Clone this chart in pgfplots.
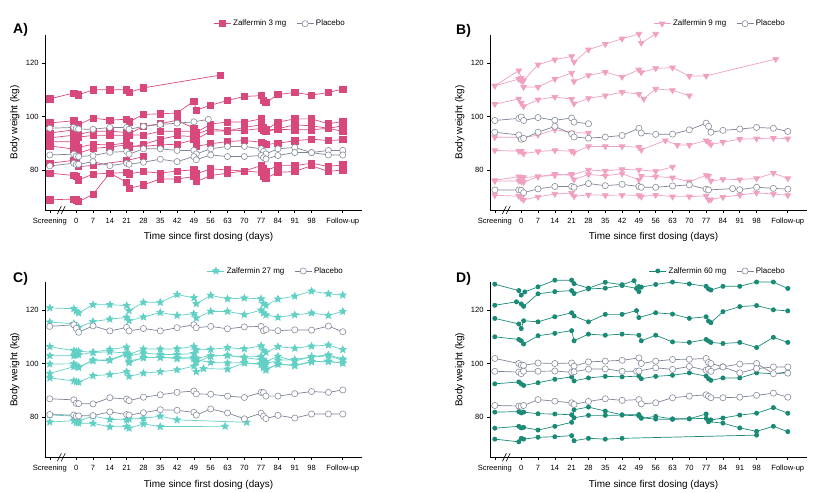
\documentclass[border=0pt]{standalone}
\usepackage{fontspec}
\setmainfont{Liberation Sans}
\usepackage{pgfplots}
\pgfplotsset{compat=1.18}

\definecolor{colA}{RGB}{217,72,125}
\definecolor{colB}{RGB}{240,160,192}
\definecolor{colC}{RGB}{98,208,196}
\definecolor{colD}{RGB}{26,138,118}
\definecolor{plac}{RGB}{125,132,152}
\definecolor{placmark}{RGB}{135,140,158}

% filled five-pointed star
\pgfdeclareplotmark{fstar}{%
  \pgfpathmoveto{\pgfpointpolar{90}{\pgfplotmarksize}}%
  \pgfpathlineto{\pgfpointpolar{126}{0.45\pgfplotmarksize}}%
  \pgfpathlineto{\pgfpointpolar{162}{\pgfplotmarksize}}%
  \pgfpathlineto{\pgfpointpolar{198}{0.45\pgfplotmarksize}}%
  \pgfpathlineto{\pgfpointpolar{234}{\pgfplotmarksize}}%
  \pgfpathlineto{\pgfpointpolar{270}{0.45\pgfplotmarksize}}%
  \pgfpathlineto{\pgfpointpolar{306}{\pgfplotmarksize}}%
  \pgfpathlineto{\pgfpointpolar{342}{0.45\pgfplotmarksize}}%
  \pgfpathlineto{\pgfpointpolar{18}{\pgfplotmarksize}}%
  \pgfpathlineto{\pgfpointpolar{54}{0.45\pgfplotmarksize}}%
  \pgfpathclose
  \pgfusepathqfillstroke}

\tikzset{brk/.style={line width=0.6bp, black}}

\pgfplotsset{
  panel/.style={
    scale only axis, width=317bp, height=175bp,
    xmin=-13, xmax=119, ymin=65, ymax=130.5,
    axis lines=left,
    axis line style={-, line width=0.8bp},
    every outer x axis line/.append style={-},
    every outer y axis line/.append style={-},
    clip=false,
    xtick={-11,0,7,14,21,28,35,42,49,56,63,70,77,84,91,98,111},
    xticklabels={Screening,0,7,14,21,28,35,42,49,56,63,70,77,84,91,98,Follow-up},
    ytick={80,100,120},
    tick align=outside, major tick length=3bp,
    tick style={black, line width=0.6bp},
    tick label style={font=\fontsize{7.6}{9}\selectfont},
    xticklabel style={yshift=-1.5bp},
    /pgf/number format/assume math mode=true,
    xlabel={Time since first dosing (days)},
    ylabel={Body weight (kg)},
    label style={font=\fontsize{10}{12}\selectfont},
    xlabel style={at={(axis description cs:0.516,-0.155)}, anchor=center},
    ylabel style={at={(axis description cs:-0.095,0.5)}, anchor=center},
    legend columns=2,
    legend style={draw=none, fill=none, anchor=south east,
      font=\fontsize{8}{9}\selectfont,
      /tikz/every even column/.append style={column sep=8bp}},
  },
  zA/.style={color=colA, line width=0.7bp, mark=square*, mark size=3.1bp},
  zB/.style={color=colB, line width=0.7bp, mark=triangle*, mark size=3.3bp, mark options={rotate=180}},
  zC/.style={color=colC, line width=0.7bp, mark=fstar, mark size=3.6bp},
  zD/.style={color=colD, line width=0.7bp, mark=*, mark size=2.1bp},
  pl/.style={color=plac, line width=0.7bp, mark=*, mark size=3.1bp,
    mark options={fill=white, draw=placmark, line width=0.6bp}},
}

\newcommand{\breakmark}{%
  \draw[brk] ([xshift=-2.5bp,yshift=-4bp]axis cs:-6.8,65) -- ([xshift=1.5bp,yshift=4bp]axis cs:-6.8,65);
  \draw[brk] ([xshift=-2.5bp,yshift=-4bp]axis cs:-5.2,65) -- ([xshift=1.5bp,yshift=4bp]axis cs:-5.2,65);}

\begin{document}
\begin{tikzpicture}
\path[use as bounding box] (0,0) rectangle (815bp,493bp);

% ---------------- A) 3 mg
\begin{axis}[panel, at={(45bp,283bp)}, anchor=south west,
  legend style={at={(0.962,1.02)}}]
\addplot[zA] coordinates {(-11,106.6) (-1,108.8) (1,108.1) (7,110) (14,110) (21,110) (22,109) (28,110.7) (60,115.5)};
\addlegendentry{Zalfermin 3 mg}
\addplot[zA,forget plot] coordinates {(-11,97.6) (-1,98.4) (1,97) (7,99.4) (14,98.6) (21,99) (22,98) (28,100.8) (35,101) (42,101.3) (49,105.8) (50,102.4) (56,104.2) (63,106) (70,107.5) (77,107.8) (78,106) (79,105.2) (84,108.2) (91,109) (98,108) (105,109) (111,110.3)};
\addplot[zA,forget plot] coordinates {(-11,93.8) (-1,95) (0,94.2) (1,93.3) (7,94.5) (14,94.5) (21,94) (22,93.5) (28,96.3) (35,97.3) (42,98.6) (49,95.6) (50,94) (56,97.2) (63,97.9) (70,97.9) (77,99.1) (78,96) (79,95) (84,97.9) (91,99.1) (98,99.1) (105,97.3) (111,98.1)};
\addplot[zA,forget plot] coordinates {(-11,92) (-1,93) (0,92.6) (1,92.3) (7,92.9) (14,93) (21,92.9) (22,93.1) (28,93) (35,94.5) (42,94.5) (49,94.4) (50,93.3) (56,95.4) (63,94.6) (70,95.9) (77,96.9) (78,95.5) (79,94.8) (84,95.4) (91,96.9) (98,96.5) (105,95.6) (111,96.5)};
\addplot[zA,forget plot] coordinates {(-11,90.6) (-1,90.5) (0,89.5) (1,88.5) (7,89.6) (14,89.3) (21,90.1) (22,89) (28,88.8) (35,89.4) (42,89.6) (49,91.3) (50,88.8) (56,89.8) (63,90.6) (70,91) (77,90.4) (78,89.8) (79,89.5) (84,90) (91,90.9) (98,91.5) (105,91) (111,91.3)};
\addplot[zA,forget plot] coordinates {(-11,89) (-1,87.8) (0,87) (1,86.3) (7,88) (14,88.6) (21,89.3) (22,88.4) (28,89.5) (35,91.5) (42,92.8) (49,92.5) (50,91.5) (56,94.5) (63,94.6) (70,94.8) (77,95.5) (78,94.8) (79,94.5) (84,95.2) (91,95) (98,95) (105,95.6) (111,94.4)};
\addplot[zA,forget plot] coordinates {(-11,82.5) (-1,83.6) (0,83) (1,81.2) (7,81.7) (21,83.5) (28,85)};
\addplot[zA,forget plot] coordinates {(-11,78.8) (-1,77.9) (0,77.5) (1,76.3) (7,78.4) (14,78.8) (21,79) (22,78.5) (28,79.4) (35,78.8) (42,79.6) (49,80) (50,78.5) (56,80.4) (63,80) (70,79.6) (77,81.6) (78,80.6) (79,79.6) (84,81.6) (91,81.6) (98,82.5) (105,81.3) (111,81.9)};
\addplot[zA,forget plot] coordinates {(-11,68.8) (-1,69.1) (0,68.8) (1,68.1) (7,70.9) (14,78.8) (21,75.4) (22,73.1) (28,74.4) (35,76.6) (42,76.6) (49,77.5) (50,75.6) (56,77.9) (63,78.8) (70,79.6) (77,79.1) (78,77.8) (79,76.9) (84,79.1) (91,79.4) (98,81.6) (105,79.4) (111,80)};
\addplot[pl] coordinates {(-11,95.6) (-1,95.9) (0,95.5) (1,95.3) (7,95.2) (14,95.9) (21,95.9) (22,95.2) (28,96.3) (35,97) (42,97.5) (49,98) (55,98.9)};
\addlegendentry{Placebo}
\addplot[pl,forget plot] coordinates {(-11,85.6) (-1,85.9) (0,85.2) (1,85) (7,85.4) (14,86.6) (21,86.9) (22,85.9) (28,87.9) (35,87.9) (42,87.3) (49,87.3) (50,86) (56,87.9) (63,88.8) (70,88.8) (77,87.9) (78,86.9) (79,86) (84,87.9) (91,88.4) (98,86.5) (105,87.3) (111,87.3)};
\addplot[pl,forget plot] coordinates {(-11,81.5) (-1,82.5) (0,82) (1,82.1) (7,83.1) (14,81.6) (21,82.5) (22,82.1) (28,82.9) (35,84) (42,83.1) (49,85) (50,83.8) (56,85.6) (63,85) (70,85) (77,85.4) (78,84.6) (79,84.1) (84,85.4) (91,86.5) (98,86.5) (105,85.6) (111,85.6)};
\breakmark
\end{axis}

% ---------------- B) 9 mg
\begin{axis}[panel, at={(490bp,283bp)}, anchor=south west,
  legend style={at={(0.946,1.02)}}]
\addplot[zB] coordinates {(-11,111.5) (-1,117.2) (0,114.4) (1,113.5) (7,119.4) (14,121.3) (21,122.5) (22,120.4) (28,125) (35,127.1) (42,129.1) (49,130.9) (50,127.5) (56,130.9)};
\addlegendentry{Zalfermin 9 mg}
\addplot[zB,forget plot] coordinates {(-11,111.5) (-1,114) (0,113.5) (1,111) (7,111) (14,114) (21,116.3) (22,113.1) (28,115.4) (35,116.6) (42,114.8) (49,117.5) (50,116.5) (56,118) (63,118.3) (70,115.1) (77,115.2) (106,121.5)};
\addplot[zB,forget plot] coordinates {(-11,104.6) (-1,106.6) (0,105) (1,103.8) (7,106.3) (14,107.3) (21,106.5) (22,104.8) (28,106.8) (35,107.8) (42,109.1) (49,108.4) (51,106.6) (56,110.3) (63,109.8) (70,107.8)};
\addplot[zB,forget plot] coordinates {(-11,92.2) (-1,92.2) (1,92) (7,93.1) (14,95.1) (21,94) (28,93.8)};
\addplot[zB,forget plot] coordinates {(-11,87.3) (-1,87) (0,87) (1,86.1) (7,86.9) (14,87.3) (21,87) (22,86.5) (28,88.8) (35,88.8) (42,88.8) (49,88.5) (50,87.5) (60,91) (65,89.3) (70,89.3) (77,91) (78,90.4) (79,89.5) (84,90.4) (91,91.5) (98,91.7) (105,91.9) (111,91.7)};
\addplot[zB,forget plot] coordinates {(-11,76.1) (-1,77.5) (0,77.3) (1,77.2) (7,77.5) (14,78.4) (21,78) (28,80) (35,79.6) (42,80.2) (49,80) (56,79.5) (63,81.1)};
\addplot[zB,forget plot] coordinates {(-11,75.8) (-1,75.9) (0,75.7) (1,75.4) (7,77.5) (14,78) (21,78.4) (22,76.4) (28,78.3) (35,77.8) (42,78.6) (49,76.3) (50,77.7) (56,77.5) (63,77.1) (70,75.6) (77,78) (78,77.7) (79,75.9) (84,76.5) (91,76.4) (98,76.8) (105,78.8) (111,76.8)};
\addplot[zB,forget plot] coordinates {(-11,70.5) (-1,70.2) (0,69.5) (1,68.8) (7,69.9) (14,71) (21,71.3) (22,70.1) (28,70.7) (35,70.5) (42,70.6) (49,70.5) (50,70) (56,70.6) (63,70) (70,70) (77,70.3) (78,68.8) (79,68.9) (84,69.8) (91,70.6) (98,71.4) (105,71) (111,70.5)};
\addplot[pl] coordinates {(-11,98.5) (-1,99.3) (0,99.8) (1,98.5) (7,99.6) (14,98.6) (21,99.4) (22,97.9) (28,97.3)};
\addlegendentry{Placebo}
\addplot[pl,forget plot] coordinates {(-11,94.1) (-1,93.1) (0,91.5) (1,91.8) (7,94.1) (14,96.3) (21,93.5) (22,92.3) (28,91.9) (35,92.3) (42,92.9) (49,95.6) (50,93.8) (56,93.3) (63,93.4) (70,95) (77,97.5) (78,96.3) (79,94.1) (84,94.8) (91,95.3) (98,95.9) (105,95.6) (111,94.4)};
\addplot[pl,forget plot] coordinates {(-11,72.5) (-1,72.5) (0,72.4) (1,71.5) (7,72.9) (14,73.8) (21,73.8) (22,73.5) (28,74.9) (35,74.1) (42,74.6) (49,73.8) (50,73.5) (56,73.5) (63,74) (70,74.4) (77,72.8) (78,72.5) (88,73) (91,72.6) (98,73.5) (105,73.1) (111,72.8)};
\breakmark
\end{axis}

% ---------------- C) 27 mg
\begin{axis}[panel, at={(45bp,35.7bp)}, anchor=south west,
  legend style={at={(0.956,1.02)}}]
\addplot[zC] coordinates {(-11,120.9) (-1,120.6) (0,119.7) (1,119) (7,122.1) (14,122.1) (21,121.8) (22,119.9) (28,123) (35,123) (42,125.9) (49,124.7) (50,122.5) (56,125.6) (63,124.3) (70,124.6) (77,124.3) (78,122.5) (79,121.9) (84,124.2) (91,125.3) (98,127.2) (105,126.2) (111,125.7)};
\addlegendentry{Zalfermin 27 mg}
\addplot[zC,forget plot] coordinates {(-11,115.6) (-1,115) (0,114) (1,113.6) (7,115.8) (14,116.7) (21,117.4) (22,116.1) (28,117.5) (35,119.2) (42,118.1) (49,118.7) (50,117.1) (56,119.6) (63,119.6) (70,118.4) (77,120.1) (78,119) (79,118.3) (84,117.4) (91,118.3) (98,119) (105,118.1) (111,119.6)};
\addplot[zC,forget plot] coordinates {(-11,106.4) (-1,104.9) (0,104.6) (1,104.7) (7,104.3) (14,105.4) (21,106.2) (22,103.5) (28,105.5) (35,105.5) (42,105.6) (49,106.5) (50,105.2) (56,105.4) (63,106) (70,105.6) (77,106.7) (78,105) (79,104.3) (84,106.4) (91,105.8) (98,106.6) (105,107) (111,105.3)};
\addplot[zC,forget plot] coordinates {(-11,103) (-1,103) (0,103.3) (1,103.4) (7,104.2) (14,104.5) (21,104) (22,103) (28,104) (35,103.5) (42,103.5) (49,103.8) (50,102.1) (56,103) (63,103.1) (70,102.5) (77,102.8) (78,101.5) (79,100.8) (84,102.8) (91,101) (98,102.7) (105,103.3) (111,101.8)};
\addplot[zC,forget plot] coordinates {(-11,99.9) (-1,100) (0,99.2) (1,98.8) (7,101.1) (14,101.3) (21,103.5) (22,100.4) (28,102.3) (35,102.3) (42,102.2) (49,102.3) (50,101.5) (56,100.5) (63,100.3) (70,100.4) (77,99.7) (78,99) (79,97.6) (84,100) (91,99.2) (98,100.7) (105,100.8) (111,100.3)};
\addplot[zC,forget plot] coordinates {(-11,96.4) (-1,98.9) (0,99.3) (1,98.6) (7,101.4) (14,101.5) (21,103.8) (22,101) (28,102.2) (35,102.5) (42,101.9) (49,101.8) (50,100.5) (56,102.8) (63,103.2) (70,102.3) (77,101.5) (79,100) (84,101.3) (91,101.6) (98,102.5) (105,103) (111,101.3)};
\addplot[zC,forget plot] coordinates {(-11,94.7) (-1,93.6) (0,93.3) (1,93.1) (7,95.5) (14,96) (21,97) (22,95.3) (28,96.5) (35,97) (42,97.7) (49,99.1) (50,97) (53,98.2) (63,98) (70,100.3) (77,100) (78,98.5) (79,98) (84,99.8) (91,99.5) (98,100.8) (105,101) (111,100.2)};
\addplot[zC,forget plot] coordinates {(-11,80.9) (-1,80.4) (0,79) (1,78.6) (7,80.4) (14,79.2) (21,79) (22,79.3) (28,79.6) (35,80.4) (42,79) (71,78.1)};
\addplot[zC,forget plot] coordinates {(-11,78.2) (-1,78.7) (0,78) (1,77.8) (7,77.7) (14,76.4) (21,76.5) (22,75.9) (28,77.5) (35,76.5) (62,76.6)};
\addplot[pl] coordinates {(-11,114) (-1,114.6) (0,113.3) (1,111.8) (7,114.2) (14,112.3) (21,113.6) (22,112.3) (28,113.2) (35,112.3) (42,113.5) (49,114.6) (50,113.5) (56,114) (63,113.1) (70,113.8) (77,114) (78,112.4) (79,112.8) (84,112.4) (91,112.7) (98,112.6) (105,114.1) (111,112)};
\addlegendentry{Placebo}
\addplot[pl,forget plot] coordinates {(-11,86.9) (-1,86.5) (0,85.2) (1,85.1) (7,85) (14,87.3) (21,86.8) (22,86.2) (28,87.5) (35,88.4) (42,89.3) (49,89.8) (50,88.7) (56,88.6) (63,87.9) (70,87.4) (77,89.3) (78,89.2) (79,87.9) (84,87.9) (91,88.8) (98,89.6) (105,89.3) (111,90.2)};
\addplot[pl,forget plot] coordinates {(-11,81) (-1,80.8) (0,80.3) (1,80.5) (7,80.6) (14,82) (21,81) (22,80.8) (28,81.7) (35,82.8) (42,82.6) (49,81.8) (50,80.8) (56,83.1) (63,81.6) (70,79.4) (77,81.5) (78,80.4) (79,79.5) (84,80.7) (91,79.7) (98,81.2) (105,81.2) (111,81.2)};
\breakmark
\end{axis}

% ---------------- D) 60 mg
\begin{axis}[panel, at={(490bp,35.7bp)}, anchor=south west,
  legend style={at={(0.946,1.02)}}]
\addplot[zD] coordinates {(-11,129.8) (-1,127.4) (0,125.7) (1.5,126.9) (7,128.8) (14,131.3) (21,131.3) (22,130) (28,128.3) (35,130.5) (42,129.6) (47,131.1) (49,127) (50,128.7) (56,129.7) (63,130.6) (70,129.9) (77,129) (78,128) (79,127.6) (84,129) (91,129) (98,130.6) (105,130.6) (111,128.2)};
\addlegendentry{Zalfermin 60 mg}
\addplot[zD,forget plot] coordinates {(-11,121.9) (-2,123.2) (0,122.4) (1,121.5) (7,126.2) (14,127) (21,127.4) (22,126.3) (28,128) (35,128.3) (42,129.3) (48,128.2) (49,128.9)};
\addplot[zD,forget plot] coordinates {(-11,117) (-1,114.9) (0,113.2) (1,116.1) (7,115.7) (14,117.6) (21,119.1) (22,117.9) (28,115.7) (35,118.5) (42,118.5) (48,119.9) (49,117.3) (56,119.1) (63,118.6) (70,117) (77,117.6) (78,116) (79,115.4) (84,119.5) (91,121.4) (98,121.8) (105,120.2) (111,119.8)};
\addplot[zD,forget plot] coordinates {(-11,110.1) (-1,109.1) (0,108.6) (1,107.4) (7,110.5) (14,111.4) (21,112.4) (22,108.6) (28,111.1) (35,110.7) (42,111.1) (49,110.7) (50,108.6) (56,110.7) (63,108.2) (70,108) (77,109.1) (78,108.5) (79,108) (84,107.6) (91,108) (98,106.1) (105,109.9) (111,108)};
\addplot[zD,forget plot] coordinates {(-11,92.5) (-1,93.2) (0,92.5) (1,91.9) (7,92.9) (14,94.2) (21,95.1) (22,93.6) (28,94.7) (35,95.3) (42,95.1) (49,95.4) (50,94.4) (56,95.3) (63,95.7) (70,96.6) (77,95.4) (78,94.4) (79,93.8) (84,94.7) (91,94.7) (98,96.6) (105,96.3) (111,96.9)};
\addplot[zD,forget plot] coordinates {(-11,81.9) (-1,82.1) (0,81.6) (1,81.9) (7,81.3) (14,81.2) (21,80.9) (22,79.8) (28,80.7) (35,80.7) (42,80.8) (49,80.5) (50,79.6) (56,80.3) (63,79.4) (70,79.4) (77,81.2) (78,78.8) (79,79) (84,79.7) (91,80.8) (98,81.5) (105,83.6) (111,81.5)};
\addplot[zD,forget plot] coordinates {(-11,75.9) (-1,76.6) (0,76) (1,76.2) (7,75.2) (14,76.6) (21,78.1) (22,82.8) (28,83.8) (35,82.3) (42,80.9) (49,81) (50,79.8) (56,79.3) (63,79.2) (70,79.4) (77,79.6) (78,78.3) (84,77.8) (91,76) (98,74.7) (105,76.6) (111,74.6)};
\addplot[zD,forget plot] coordinates {(-11,71.8) (-1,70.8) (0,72.1) (1,71.8) (7,72.5) (14,72.7) (21,73.1) (22,71.2) (28,72.1) (35,71.8) (42,72.1) (98,73.3)};
\addplot[pl] coordinates {(-11,102) (-1,100.1) (0,99.5) (1,99.4) (7,100.3) (14,100.1) (21,100.3) (22,99.1) (28,100.7) (35,101) (42,101.3) (49,102.2) (50,100.1) (56,101) (63,101.6) (70,101.7) (77,102) (78,100.5) (79,100.1) (84,98.9) (91,99.9) (98,100.1) (105,96.3) (111,96.5)};
\addlegendentry{Placebo}
\addplot[pl,forget plot] coordinates {(-11,97.2) (-1,96.9) (0,96.3) (1,97.2) (7,97.2) (14,97.3) (21,96.8) (22,97) (28,98) (35,98.1) (42,97.2) (48,97.2) (49,97.3) (56,98.5) (63,97.9) (70,99) (77,97.6) (78,98) (79,97.2) (84,98.8) (91,96.6) (98,98.2) (105,98.8) (111,98.8)};
\addplot[pl,forget plot] coordinates {(-11,84.4) (-1,84.2) (0,84.1) (1,84.4) (7,86.6) (14,86) (21,85.4) (22,84.8) (28,85.9) (35,86.9) (42,86.3) (49,86.6) (50,85) (56,85.4) (63,87.3) (70,87.9) (77,88.4) (78,87.8) (79,87.3) (84,87.3) (91,87.5) (98,88.2) (105,89) (111,87.5)};
\breakmark
\end{axis}

\node[anchor=west, inner sep=0pt, font=\fontsize{14}{14}\selectfont\bfseries] at (13bp,463bp) {A)};
\node[anchor=west, inner sep=0pt, font=\fontsize{14}{14}\selectfont\bfseries] at (456bp,462bp) {B)};
\node[anchor=west, inner sep=0pt, font=\fontsize{14}{14}\selectfont\bfseries] at (13bp,214bp) {C)};
\node[anchor=west, inner sep=0pt, font=\fontsize{14}{14}\selectfont\bfseries] at (456bp,214bp) {D)};
\end{tikzpicture}
\end{document}
